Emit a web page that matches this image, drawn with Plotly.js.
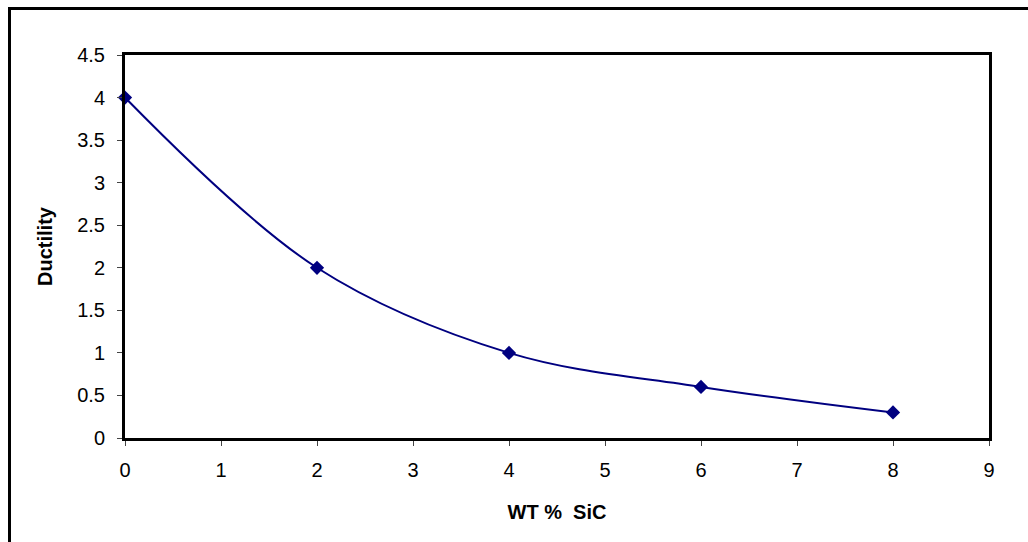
<!DOCTYPE html>
<html>
<head>
<meta charset="utf-8">
<script src="https://cdn.plot.ly/plotly-3.0.1.min.js"></script>
<style>
html,body{margin:0;padding:0;background:#fff;}
#chart{width:1028px;height:542px;}
</style>
</head>
<body>
<div id="chart"></div>
<script>
var wtSiC = [0, 2, 4, 6, 8];
var ductility = [4, 2, 1, 0.6, 0.3];
var xTickVals = [0, 1, 2, 3, 4, 5, 6, 7, 8, 9];
var yTickVals = [0, 0.5, 1, 1.5, 2, 2.5, 3, 3.5, 4, 4.5];
var yTickText = ['0', '0.5', '1', '1.5', '2', '2.5', '3', '3.5', '4', '4.5'];

var trace = {
  x: wtSiC,
  y: ductility,
  type: 'scatter',
  mode: 'lines+markers',
  line: {color: '#000080', width: 2, shape: 'spline', smoothing: 1},
  marker: {symbol: 'diamond', size: 11, color: '#000080'},
  cliponaxis: false,
  showlegend: false
};

var fam = 'Liberation Sans, Arial, sans-serif';
var tickFont = {family: fam, size: 20, color: '#000'};
var titleFont = {family: fam, size: 20, color: '#000'};

var layout = {
  width: 1028,
  height: 542,
  paper_bgcolor: '#fff',
  plot_bgcolor: '#fff',
  margin: {l: 125, r: 39, t: 55, b: 104, pad: 0},
  font: tickFont,
  xaxis: {
    range: [0, 9],
    tickvals: xTickVals,
    ticks: 'outside',
    ticklen: 5,
    tickwidth: 1,
    tickcolor: '#444',
    ticklabelstandoff: 7,
    showgrid: false,
    zeroline: false,
    showline: true,
    mirror: true,
    linecolor: '#000',
    linewidth: 3,
    tickfont: tickFont,
    title: {text: '<b>WT %  SiC</b>', font: titleFont, standoff: 25}
  },
  yaxis: {
    range: [0, 4.5],
    tickvals: yTickVals,
    ticktext: yTickText,
    ticks: 'outside',
    ticklen: 5,
    tickwidth: 1,
    tickcolor: '#444',
    ticklabelstandoff: 8,
    showgrid: false,
    zeroline: false,
    showline: true,
    mirror: true,
    linecolor: '#000',
    linewidth: 3,
    tickfont: tickFont,
    title: {text: '<b>Ductility</b>', font: titleFont, standoff: 20}
  },
  shapes: [{
    type: 'rect',
    xref: 'paper', yref: 'paper',
    x0: (9.5 - 125) / 864, x1: (1045 - 125) / 864,
    y0: (438 - 560) / 383, y1: 1 + (55 - 8.5) / 383,
    line: {color: '#000', width: 3},
    fillcolor: 'rgba(0,0,0,0)',
    layer: 'below'
  }]
};

Plotly.newPlot('chart', [trace], layout, {displayModeBar: false, staticPlot: true});
</script>
</body>
</html>
